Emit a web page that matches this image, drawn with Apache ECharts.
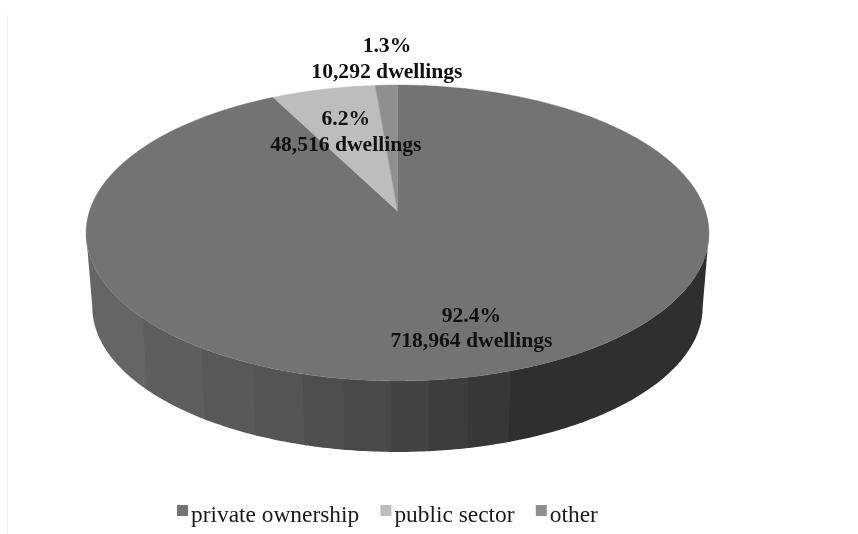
<!DOCTYPE html>
<html>
<head>
<meta charset="utf-8">
<style>html,body{margin:0;padding:0;background:#fff}#chart{width:858px;height:534px}</style>
<script src="https://cdn.jsdelivr.net/npm/echarts@6/dist/echarts.min.js"></script>
</head>
<body>
<div id="chart"></div>
<script>
// Dwellings by type of ownership
const categories = ['private ownership', 'public sector', 'other'];
const dwellings = [718964, 48516, 10292];

const FILLS = ['#737373', '#bdbdbd', '#8f8f8f'];
const TOTAL = dwellings.reduce((a, b) => a + b, 0);

// Perspective disc: unit circle (u, v) projected onto the page
const TILT = 0.1486;
const TOP_FACE = { x: 397.5, y: 211, a: 308, b: 144.7 };
const BOTTOM_FACE = { x: 397.5, y: 285.4, a: 301.8, b: 141.8 };
const FONT = '"Liberation Serif", "Times New Roman", serif';

// Label anchors: radial fraction along each slice's mid angle, plus a nudge
const LABEL_PLACE = [
  { r: 0.75, dx: 13, dy: -0.5 },
  { r: 0.625, dx: -3, dy: 1 },
  { r: 1.258, dx: 3, dy: 1.5 }
];

// Rim shading bands: angles clockwise from the front of the disc
const RIM_EDGES = [81.5, 18.4, 11.4, 5, -1.1, -8.6, -15.3, -24, -34, -48.3, -81.5];
const RIM_FILLS = ['#2f2f2f', '#373737', '#3c3c3c', '#434343', '#494949', '#4e4e4e', '#545454', '#585858', '#5e5e5e', '#656565'];

// Legend swatch sits above its label: an 11x11 square with a speck that stretches the icon box
const SWATCH_ICON = 'path://M0,0H11V11H0Z M5,21h0.01v0.01h-0.01Z';

function project(face, deg, r) {
  const t = deg * Math.PI / 180;
  const u = Math.sin(t) * r, v = Math.cos(t) * r;
  const d = 1 + TILT * v;
  return [face.x + face.a * u / d, face.y - face.b * v / d];
}

function arc(face, from, to) {
  const n = Math.max(2, Math.ceil(Math.abs(to - from) * 1.5));
  const pts = [];
  for (let i = 0; i <= n; i++) pts.push(project(face, from + (to - from) * i / n, 1));
  return pts;
}

// Start and end angle of each slice, clockwise from twelve o'clock
function sliceAngles(index) {
  let sum = 0;
  for (let i = 0; i < index; i++) sum += dwellings[i];
  return [sum / TOTAL * 360, (sum + dwellings[index]) / TOTAL * 360];
}

function labelText(value) {
  return (value / TOTAL * 100).toFixed(1) + '%\n' + value.toLocaleString('en-US') + ' dwellings';
}

// Each band starts slightly under the previous one so no seam shows between them
function rimFacets() {
  return RIM_FILLS.map((fill, i) => {
    const a = 180 - RIM_EDGES[i] - (i > 0 ? 0.4 : 0);
    const b = 180 - RIM_EDGES[i + 1];
    return {
      type: 'polygon',
      z2: 1 - i,
      shape: { points: arc(TOP_FACE, a, b).concat(arc(BOTTOM_FACE, b, a)) },
      style: { fill }
    };
  });
}

function sliceRenderer(index) {
  return function (params, api) {
    const value = api.value(0);
    const [from, to] = sliceAngles(index);
    const children = index === 0 ? rimFacets() : [];
    children.push({
      type: 'polygon',
      z2: 5,
      shape: { points: [project(TOP_FACE, 0, 0)].concat(arc(TOP_FACE, from, to)) },
      style: { fill: FILLS[index], stroke: FILLS[index], lineWidth: 0.4 }
    });
    const place = LABEL_PLACE[index];
    const at = project(TOP_FACE, (from + to) / 2, place.r);
    children.push({
      type: 'text',
      z2: 20,
      style: {
        x: at[0] + place.dx,
        y: at[1] + place.dy,
        text: labelText(value),
        fill: '#111',
        font: 'bold 21.6px ' + FONT,
        lineHeight: 25.5,
        align: 'center',
        verticalAlign: 'middle'
      }
    });
    return { type: 'group', children };
  };
}

const chart = echarts.init(document.getElementById('chart'), null, { renderer: 'canvas' });
chart.setOption({
  animation: false,
  backgroundColor: '#fff',
  // Faint frame line down the left of the chart area
  graphic: [{
    type: 'rect',
    silent: true,
    shape: { x: 7, y: 15, width: 1, height: 519 },
    style: { fill: '#f2f2f2' }
  }],
  legend: {
    data: categories,
    left: 177,
    top: 504,
    icon: SWATCH_ICON,
    itemWidth: 11,
    itemHeight: 21,
    itemGap: 21.2,
    padding: 0,
    selectedMode: false,
    textStyle: { fontFamily: FONT, fontSize: 23.4, color: '#1a1a1a', padding: [0, 0, 0, -2] }
  },
  series: categories.map((name, i) => ({
    type: 'custom',
    name,
    coordinateSystem: 'none',
    color: FILLS[i],
    itemStyle: { color: FILLS[i] },
    z: 2,
    silent: true,
    renderItem: sliceRenderer(i),
    data: [[dwellings[i]]]
  }))
});
</script>
</body>
</html>
